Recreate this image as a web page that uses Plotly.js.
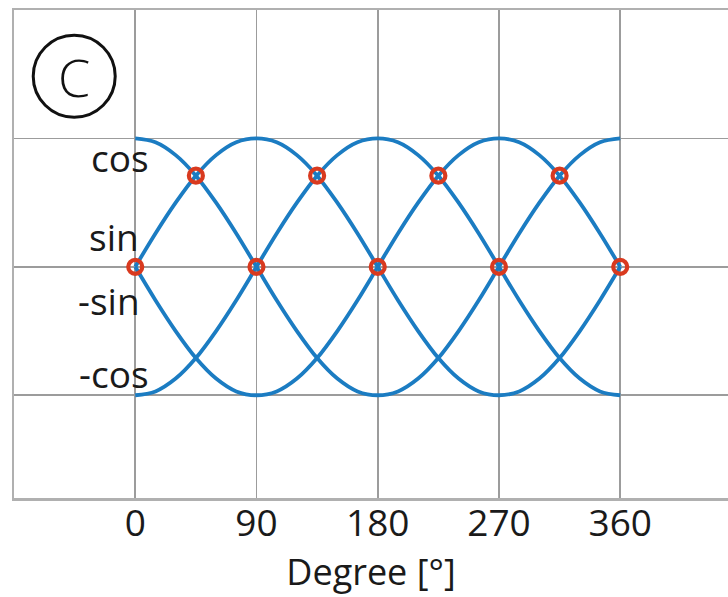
<!DOCTYPE html>
<html>
<head>
<meta charset="utf-8">
<script src="https://cdn.plot.ly/plotly-3.0.1.min.js"></script>
<style>html,body{margin:0;padding:0;background:#fff;}#chart{width:728px;height:597px;}</style>
</head>
<body>
<div id="chart"></div>
<script>
// Degree samples
const degrees = [0,15,30,45,60,75,90,105,120,135,150,165,180,195,210,225,240,255,270,285,300,315,330,345,360];
const cosVals = [1,0.97,0.87,0.71,0.5,0.26,0,-0.26,-0.5,-0.71,-0.87,-0.97,-1,-0.97,-0.87,-0.71,-0.5,-0.26,0,0.26,0.5,0.71,0.87,0.97,1];
const sinVals = [0,0.26,0.5,0.71,0.87,0.97,1,0.97,0.87,0.71,0.5,0.26,0,-0.26,-0.5,-0.71,-0.87,-0.97,-1,-0.97,-0.87,-0.71,-0.5,-0.26,0];
const negSinVals = [0,-0.26,-0.5,-0.71,-0.87,-0.97,-1,-0.97,-0.87,-0.71,-0.5,-0.26,0,0.26,0.5,0.71,0.87,0.97,1,0.97,0.87,0.71,0.5,0.26,0];
const negCosVals = [-1,-0.97,-0.87,-0.71,-0.5,-0.26,0,0.26,0.5,0.71,0.87,0.97,1,0.97,0.87,0.71,0.5,0.26,0,-0.26,-0.5,-0.71,-0.87,-0.97,-1];
// Highlighted crossings (red rings)
const crossX = [0,45,90,135,180,225,270,315,360];
const crossY = [0,0.71,0,0.71,0,0.71,0,0.71,0];
// Axis ticks
const tickVals = [0,90,180,270,360];
const tickText = ['0','90','180','270','360'];
// Curve labels
const curveLabels = ['cos','sin','-sin','-cos'];
const labelX = [12,4,5,12];
const labelY = [0.85,0.24,-0.26,-0.83];

const BLUE = '#1b7cc2';
const RED = '#d93a1f';
const FONT = '"Open Sans", "Noto Sans", sans-serif';

function curve(y){
  return {x: degrees, y: y, type:'scatter', mode:'lines',
    line:{color:BLUE, width:3.8, shape:'spline', smoothing:1}, hoverinfo:'skip', showlegend:false};
}
const traces = [curve(cosVals), curve(sinVals), curve(negSinVals), curve(negCosVals),
  {x: crossX, y: crossY, type:'scatter', mode:'markers',
   marker:{size:14, color:'rgba(0,0,0,0)', line:{color:RED, width:4.2}}, showlegend:false}];

const annotations = curveLabels.map((t,i)=>({
  x: labelX[i], y: labelY[i], xref:'x', yref:'y', text:t, showarrow:false,
  xanchor:'right', yanchor:'middle', font:{family:FONT, size:37, color:'#1a1a1a'}
}));
annotations.push({x:-45.3, y:1.48, xref:'x', yref:'y', text:'C', showarrow:false,
  xanchor:'center', yanchor:'middle', font:{family:FONT, size:52, weight:300, color:'#111'}});

const layout = {
  width:728, height:597,
  margin:{l:14, r:0, t:10, b:99},
  paper_bgcolor:'#fff', plot_bgcolor:'#fff',
  showlegend:false,
  xaxis:{range:[-90,440], tickvals:tickVals, ticktext:tickText,
    showgrid:true, gridcolor:'#9c9c9c', gridwidth:1.6, zeroline:false,
    showline:true, linecolor:'#b0b0b0', linewidth:2.5, mirror:true, ticks:'',
    ticklabelstandoff:-9,
    tickfont:{family:FONT, size:37, color:'#1a1a1a'},
    title:{text:'Degree [°]', font:{family:FONT, size:36, color:'#1a1a1a'}, standoff:11}},
  yaxis:{range:[-1.8,2.0], tickvals:[-1,0,1], showticklabels:false,
    showgrid:true, gridcolor:'#9c9c9c', gridwidth:1.6, zeroline:false,
    showline:true, linecolor:'#b0b0b0', linewidth:2.5, mirror:false, ticks:''},
  shapes:[{type:'circle', xref:'x', yref:'y', xsizemode:'pixel', ysizemode:'pixel',
    xanchor:-45.3, yanchor:1.484, x0:-41, x1:41, y0:-41, y1:41,
    line:{color:'#111', width:3}}],
  annotations: annotations
};
Plotly.newPlot('chart', traces, layout, {staticPlot:true, displayModeBar:false});
</script>
</body>
</html>
